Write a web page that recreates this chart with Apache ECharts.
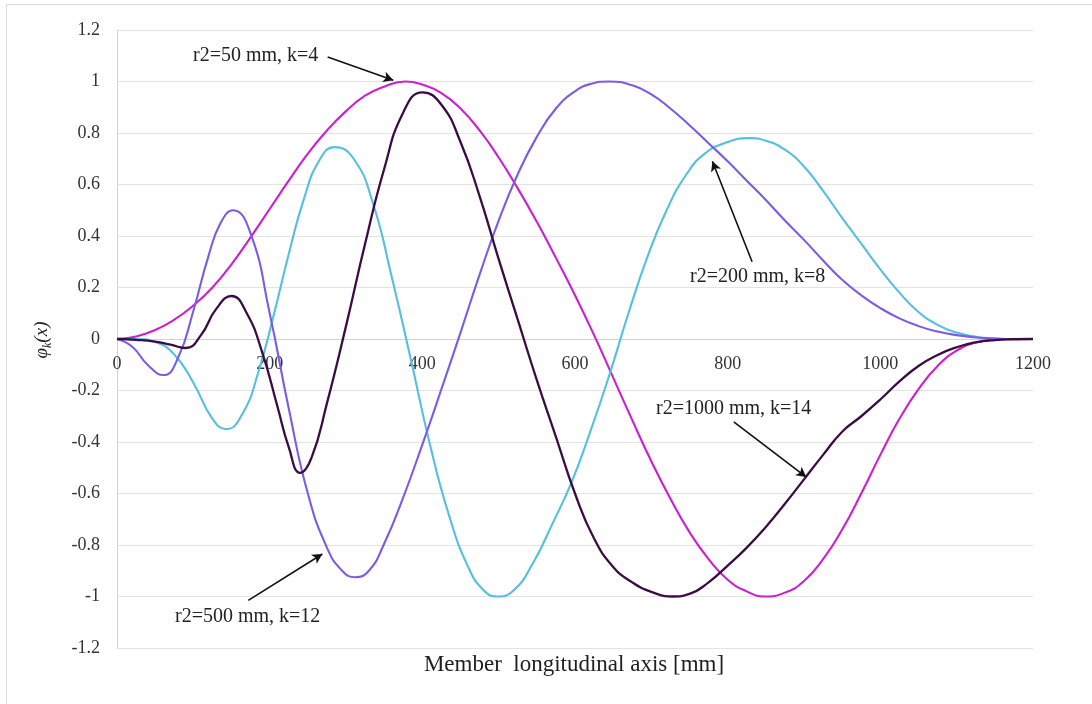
<!DOCTYPE html>
<html>
<head>
<meta charset="utf-8">
<script src="https://cdn.jsdelivr.net/npm/echarts@6/dist/echarts.min.js"></script>
<style>
  html, body { margin: 0; padding: 0; background: #ffffff; }
  #chart { width: 1092px; height: 704px; }
</style>
</head>
<body>
<div id="chart"></div>
<script>
// Mode shapes phi_k(x) along the member; x in mm, one x-list per mode
const xR50 = [0, 25, 50, 75, 100, 125, 150, 175, 200, 225, 250, 275, 300, 325, 350, 378, 400, 425, 450, 475,
  500, 525, 550, 575, 600, 625, 650, 675, 700, 725, 750, 775, 800, 825, 848, 875, 900, 925, 950, 975,
  1000, 1025, 1050, 1075, 1100, 1125, 1150, 1175, 1200];
const phiR50 = [0, 0.01, 0.035, 0.075, 0.13, 0.2, 0.29, 0.395, 0.505, 0.615, 0.72, 0.81, 0.885, 0.945, 0.98, 1.0, 0.988, 0.955, 0.895, 0.81,
  0.705, 0.585, 0.455, 0.315, 0.17, 0.015, -0.15, -0.315, -0.475, -0.62, -0.75, -0.855, -0.935, -0.98, -1.0, -0.985, -0.94, -0.855, -0.74, -0.6,
  -0.45, -0.31, -0.195, -0.105, -0.045, -0.014, -0.003, 0, 0];

const xR200 = [0, 25, 50, 75, 100, 125, 143, 165, 185, 205, 225, 245, 265, 285, 310, 335, 360, 385, 410, 435,
  460, 480, 498, 520, 545, 570, 595, 620, 645, 670, 695, 720, 745, 770, 800, 828, 850, 875, 900, 925,
  950, 975, 1000, 1025, 1050, 1075, 1100, 1125, 1150, 1175, 1200];
const phiR200 = [0, 0, -0.012, -0.06, -0.17, -0.31, -0.35, -0.287, -0.13, 0.089, 0.33, 0.545, 0.693, 0.745, 0.70, 0.53, 0.24, -0.08, -0.41, -0.685,
  -0.885, -0.975, -1.0, -0.975, -0.87, -0.72, -0.56, -0.36, -0.14, 0.1, 0.32, 0.5, 0.635, 0.72, 0.765, 0.78, 0.77, 0.735, 0.67, 0.575,
  0.47, 0.37, 0.27, 0.18, 0.105, 0.055, 0.025, 0.009, 0.002, 0, 0];

const xR500 = [0, 20, 40, 61, 80, 100, 120, 136, 152, 175, 200, 225, 250, 275, 295, 312, 330, 350, 375, 400,
  425, 450, 475, 500, 525, 550, 575, 600, 620, 645, 675, 700, 725, 750, 775, 800, 825, 850, 875, 900,
  925, 950, 975, 1000, 1025, 1050, 1075, 1100, 1125, 1150, 1175, 1200];
const phiR500 = [0, -0.03, -0.1, -0.14, -0.073, 0.109, 0.324, 0.452, 0.5, 0.41, 0.1, -0.27, -0.6, -0.81, -0.9, -0.925, -0.9, -0.795, -0.615, -0.41,
  -0.195, 0.025, 0.25, 0.46, 0.64, 0.785, 0.895, 0.962, 0.99, 1.0, 0.985, 0.95, 0.895, 0.83, 0.76, 0.69, 0.615, 0.54, 0.46, 0.385,
  0.305, 0.23, 0.17, 0.12, 0.08, 0.05, 0.029, 0.015, 0.006, 0.002, 0, 0];

const xR1000 = [0, 25, 50, 70, 90, 110, 130, 150, 170, 190, 210, 225, 240, 255, 275, 300, 325, 350, 375, 400,
  425, 450, 475, 500, 525, 550, 575, 600, 625, 650, 675, 700, 728, 750, 775, 800, 825, 850, 875, 900,
  925, 950, 975, 1000, 1025, 1050, 1075, 1100, 1125, 1150, 1175, 1200];
const phiR1000 = [0, -0.003, -0.01, -0.022, -0.035, 0.015, 0.117, 0.167, 0.1, -0.05, -0.26, -0.42, -0.52, -0.46, -0.25, 0.05, 0.37, 0.66, 0.88, 0.958,
  0.91, 0.765, 0.555, 0.31, 0.075, -0.16, -0.38, -0.6, -0.775, -0.885, -0.945, -0.982, -1.0, -0.99, -0.945, -0.88, -0.81, -0.73, -0.64, -0.545,
  -0.45, -0.36, -0.3, -0.235, -0.165, -0.105, -0.062, -0.032, -0.013, -0.004, -0.001, 0];

const seriesNames = ['r2=50 mm, k=4', 'r2=200 mm, k=8', 'r2=500 mm, k=12', 'r2=1000 mm, k=14'];
const seriesX = [xR50, xR200, xR500, xR1000];
const seriesY = [phiR50, phiR200, phiR500, phiR1000];
const seriesColors = ['#cc1fd0', '#55bfe0', '#7a5ce6', '#3b0c44'];

// Callout arrows in data coordinates [tail, head]; label anchor in pixels
const callouts = [
  { text: 'r2=50 mm, k=4',    tail: [276, 1.095],  head: [362, 1.005],  textPos: [193, 56] },
  { text: 'r2=200 mm, k=8',   tail: [832, 0.30],   head: [780, 0.69],   textPos: [690, 277] },
  { text: 'r2=500 mm, k=12',  tail: [172, -1.015], head: [269, -0.835], textPos: [175, 617] },
  { text: 'r2=1000 mm, k=14', tail: [808, -0.322], head: [903, -0.536], textPos: [656, 409] }
];

const FONT = '"Liberation Serif", "Times New Roman", serif';
const chart = echarts.init(document.getElementById('chart'), null, { renderer: 'canvas' });

const series = seriesY.map((ys, i) => ({
  name: seriesNames[i],
  type: 'line',
  data: seriesX[i].map((x, j) => [x, ys[j]]),
  smooth: 0.5,
  showSymbol: false,
  lineStyle: { color: seriesColors[i], width: i === 3 ? 2.3 : 2.1 },
  itemStyle: { color: seriesColors[i] },
  z: 2 + i
}));

series.push({
  type: 'line',
  data: [],
  silent: true,
  z: 10,
  markLine: {
    silent: true,
    symbol: ['none', 'arrow'],
    symbolSize: [8, 10],
    label: { show: false },
    lineStyle: { color: '#111111', width: 1.6, type: 'solid' },
    data: callouts.map(c => [{ coord: c.tail }, { coord: c.head }])
  }
});

const option = {
  animation: false,
  backgroundColor: '#ffffff',
  grid: { left: 117, right: 59, top: 30, bottom: 56, containLabel: false },
  xAxis: {
    type: 'value',
    min: 0, max: 1200, interval: 200,
    // the axis sits on phi = 0, halfway up the plot
    offset: -309,
    axisLine: { show: true, onZero: false, lineStyle: { color: '#d4d4d4', width: 1 } },
    axisTick: { show: false },
    splitLine: { show: false },
    axisLabel: {
      margin: 16, color: '#333333', fontFamily: FONT, fontSize: 18,
      formatter: v => String(v)
    }
  },
  yAxis: {
    type: 'value',
    min: -1.2, max: 1.2, interval: 0.2,
    axisLine: { show: true, onZero: false, lineStyle: { color: '#d4d4d4', width: 1 } },
    axisTick: { show: false },
    splitLine: { show: true, lineStyle: { color: '#e3e3e3', width: 1 } },
    axisLabel: {
      margin: 17, color: '#333333', fontFamily: FONT, fontSize: 18,
      formatter: v => {
        const r = Math.round(v * 10) / 10;
        return r === 0 ? '0' : String(r);
      }
    }
  },
  series: series,
  graphic: [
    {
      type: 'rect', silent: true, z: -1,
      shape: { x: 6.5, y: 4.5, width: 1200, height: 800 },
      style: { fill: 'none', stroke: '#d9d9d9', lineWidth: 1 }
    },
    {
      type: 'text', silent: true,
      x: 574, y: 665,
      style: {
        text: 'Member  longitudinal axis [mm]',
        fontFamily: FONT, fontSize: 23, fill: '#1e1e1e',
        align: 'center', verticalAlign: 'middle'
      }
    },
    {
      type: 'text', silent: true,
      x: 42, y: 340, rotation: Math.PI / 2,
      style: {
        text: '{p|φ}{s|k}{p|(x)}',
        align: 'center', verticalAlign: 'middle', fill: '#222222',
        rich: {
          p: { fontFamily: FONT, fontStyle: 'italic', fontSize: 19, lineHeight: 24, fill: '#222222' },
          s: { fontFamily: FONT, fontStyle: 'italic', fontSize: 12, lineHeight: 13, verticalAlign: 'bottom', fill: '#222222' }
        }
      }
    }
  ].concat(callouts.map(c => ({
    type: 'text', silent: true, z: 20,
    x: c.textPos[0], y: c.textPos[1],
    style: {
      text: c.text, fontFamily: FONT, fontSize: 20, fill: '#222222',
      align: 'left', verticalAlign: 'middle'
    }
  })))
};

chart.setOption(option);
</script>
</body>
</html>
